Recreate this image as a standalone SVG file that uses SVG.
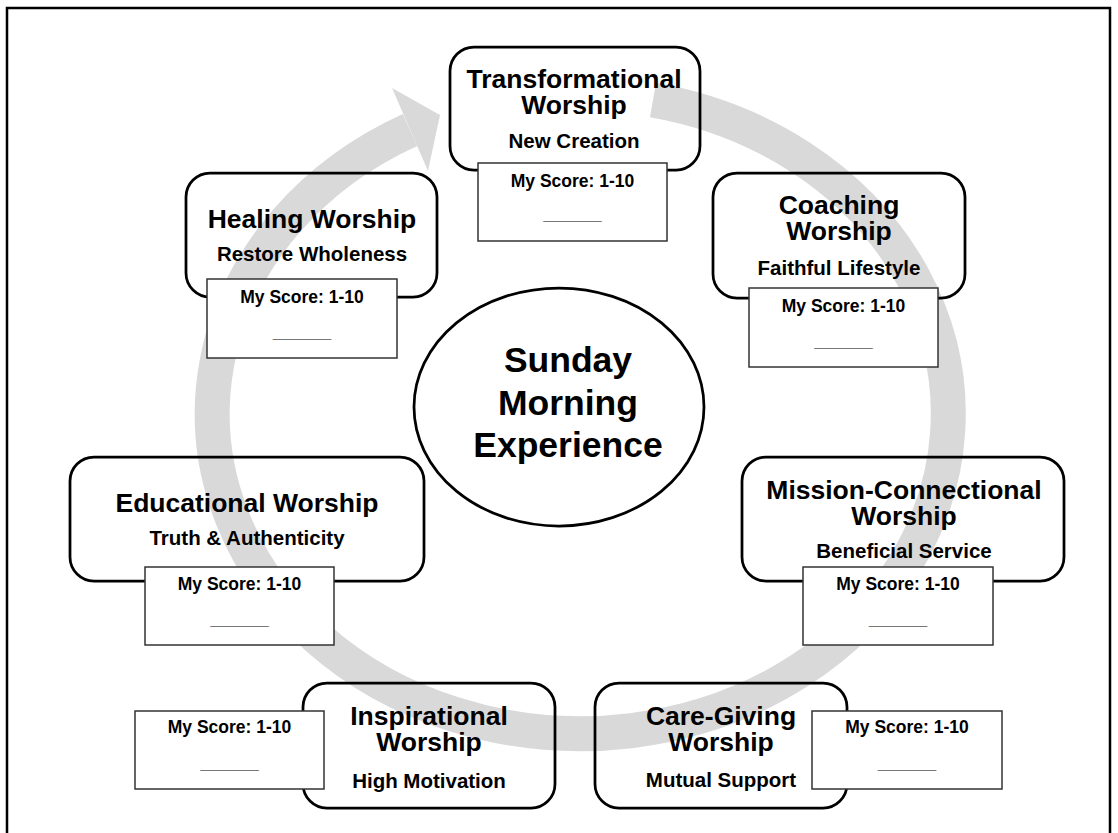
<svg xmlns="http://www.w3.org/2000/svg" width="1118" height="833" viewBox="0 0 1118 833">
<style>
.frame{fill:none;stroke:#000;stroke-width:2.5}
.ring{fill:none;stroke:#d9d9d9;stroke-width:35}
.head{fill:#d9d9d9}
.box{fill:none;stroke:#000;stroke-width:2.75}
.score{fill:#fff;stroke:#333;stroke-width:1.5}
.ell{fill:#fff;stroke:#000;stroke-width:2.75}
text{font-family:"Liberation Sans",Arial,sans-serif;font-weight:bold;fill:#000;text-anchor:middle}
.t{font-size:26.5px}
.s{font-size:20.5px}
.sc{font-size:17.5px}
.c{font-size:35.5px}
</style>
<rect class="frame" x="7" y="8" width="1103" height="850"/>
<g id="connectors">
<path class="ring" d="M 653 100 A 368 320 0 1 1 410 130"/>
<polygon class="head" points="392,88 440,115 428,171"/>
</g>
<g id="center">
<ellipse class="ell" cx="559" cy="407" rx="145" ry="119"/>
<text class="c" x="568" y="372">Sunday</text>
<text class="c" x="568" y="415">Morning</text>
<text class="c" x="568" y="457">Experience</text>
</g>
<g id="transformational">
<rect class="box" x="450" y="47" width="250" height="123" rx="24"/>
<text class="t" x="574" y="88">Transformational</text>
<text class="t" x="574" y="114">Worship</text>
<text class="s" x="574" y="148">New Creation</text>
<rect class="score" x="478" y="163" width="189" height="78"/>
<text class="sc" x="572.5" y="187">My Score: 1-10</text>
<text class="sc" x="572.5" y="220">______</text>
</g>
<g id="coaching">
<rect class="box" x="713" y="173" width="252" height="125" rx="24"/>
<text class="t" x="839" y="214">Coaching</text>
<text class="t" x="839" y="240">Worship</text>
<text class="s" x="839" y="275">Faithful Lifestyle</text>
<rect class="score" x="749" y="288" width="189" height="79"/>
<text class="sc" x="843.5" y="312">My Score: 1-10</text>
<text class="sc" x="843.5" y="347">______</text>
</g>
<g id="mission">
<rect class="box" x="742" y="457" width="322" height="124" rx="24"/>
<text class="t" x="904" y="499">Mission-Connectional</text>
<text class="t" x="904" y="525">Worship</text>
<text class="s" x="904" y="558">Beneficial Service</text>
<rect class="score" x="803" y="567" width="190" height="78"/>
<text class="sc" x="898" y="590">My Score: 1-10</text>
<text class="sc" x="898" y="625">______</text>
</g>
<g id="caregiving">
<rect class="box" x="595" y="683" width="252" height="125" rx="24"/>
<text class="t" x="721" y="725">Care-Giving</text>
<text class="t" x="721" y="751">Worship</text>
<text class="s" x="721" y="787">Mutual Support</text>
<rect class="score" x="812" y="711" width="190" height="78"/>
<text class="sc" x="907" y="733">My Score: 1-10</text>
<text class="sc" x="907" y="769">______</text>
</g>
<g id="inspirational">
<rect class="box" x="303" y="683" width="252" height="125" rx="24"/>
<text class="t" x="429" y="725">Inspirational</text>
<text class="t" x="429" y="751">Worship</text>
<text class="s" x="429" y="788">High Motivation</text>
<rect class="score" x="135" y="711" width="189" height="78"/>
<text class="sc" x="229.5" y="733">My Score: 1-10</text>
<text class="sc" x="229.5" y="769">______</text>
</g>
<g id="educational">
<rect class="box" x="70" y="457" width="354" height="124" rx="24"/>
<text class="t" x="247" y="512">Educational Worship</text>
<text class="s" x="247" y="545">Truth &amp; Authenticity</text>
<rect class="score" x="145" y="567" width="189" height="78"/>
<text class="sc" x="239.5" y="590">My Score: 1-10</text>
<text class="sc" x="239.5" y="625">______</text>
</g>
<g id="healing">
<rect class="box" x="186" y="173" width="251" height="124" rx="24"/>
<text class="t" x="312" y="228">Healing Worship</text>
<text class="s" x="312" y="261">Restore Wholeness</text>
<rect class="score" x="207" y="279" width="190" height="79"/>
<text class="sc" x="302" y="303">My Score: 1-10</text>
<text class="sc" x="302" y="338">______</text>
</g>
</svg>
